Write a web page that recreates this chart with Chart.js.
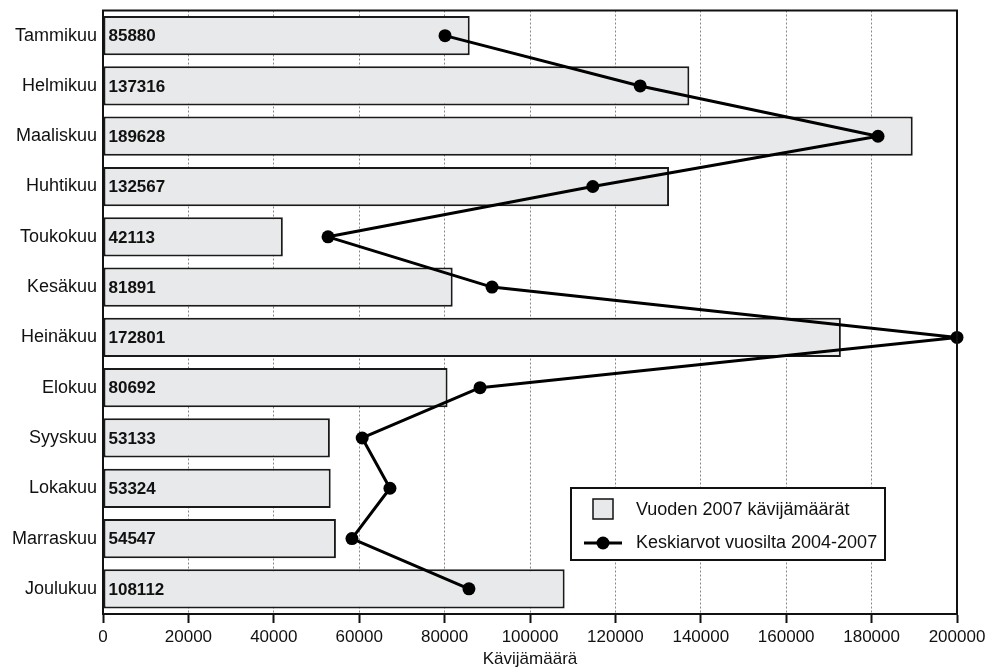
<!DOCTYPE html>
<html><head><meta charset="utf-8">
<script src="https://cdn.jsdelivr.net/npm/chart.js@4"></script>
<style>html,body{margin:0;padding:0;background:#fff}#wrap{width:1003px;height:668px}</style>
</head><body><div id="wrap"><canvas id="c" width="1003" height="668"></canvas></div>
<script>
const months = ["Tammikuu","Helmikuu","Maaliskuu","Huhtikuu","Toukokuu","Kesäkuu","Heinäkuu","Elokuu","Syyskuu","Lokakuu","Marraskuu","Joulukuu"];
const visitors2007 = [85880,137316,189628,132567,42113,81891,172801,80692,53133,53324,54547,108112];
const average2004_2007 = [80100,125800,181500,114700,52700,91100,200000,88300,60700,67200,58300,85700];
const xTicks = [0,20000,40000,60000,80000,100000,120000,140000,160000,180000,200000];
const barLabel = "Vuoden 2007 kävijämäärät";
const lineLabel = "Keskiarvot vuosilta 2004-2007";
const xTitle = "Kävijämäärä";

const FONT = "'Liberation Sans', Arial, sans-serif";

const framePlugin = {
  id: 'frame',
  afterDatasetsDraw(chart) {
    const {ctx, chartArea: a} = chart;
    ctx.save();
    ctx.strokeStyle = '#111';
    ctx.lineWidth = 2;
    ctx.strokeRect(a.left, a.top, a.right - a.left, a.bottom - a.top);
    const meta = chart.getDatasetMeta(0);
    ctx.font = "bold 17px " + FONT;
    ctx.fillStyle = '#111';
    ctx.textBaseline = 'middle';
    ctx.textAlign = 'left';
    meta.data.forEach((bar, i) => {
      ctx.fillText(String(chart.data.datasets[0].data[i]), bar.base + 5, bar.y + 1);
    });
    ctx.restore();
  },
  afterDraw(chart) {
    const {ctx} = chart;
    const x = 571, y = 488, w = 314, h = 72;
    ctx.save();
    ctx.fillStyle = '#fff';
    ctx.fillRect(x, y, w, h);
    ctx.strokeStyle = '#111';
    ctx.lineWidth = 2;
    ctx.strokeRect(x, y, w, h);
    ctx.fillStyle = '#e8e9ea';
    ctx.fillRect(593, 499, 20, 20);
    ctx.lineWidth = 1.5;
    ctx.strokeRect(593, 499, 20, 20);
    ctx.strokeStyle = '#000';
    ctx.lineWidth = 3;
    ctx.beginPath(); ctx.moveTo(584, 543); ctx.lineTo(622, 543); ctx.stroke();
    ctx.fillStyle = '#000';
    ctx.beginPath(); ctx.arc(603, 543, 6.5, 0, Math.PI*2); ctx.fill();
    ctx.font = "18px " + FONT;
    ctx.fillStyle = '#111';
    ctx.textBaseline = 'middle';
    ctx.fillText(chart.data.datasets[0].label, 636, 510);
    ctx.fillText(chart.data.datasets[1].label, 636, 543);
    ctx.restore();
  }
};

new Chart(document.getElementById('c'), {
  data: {
    labels: months,
    datasets: [
      {
        type: 'bar',
        label: barLabel,
        data: visitors2007,
        backgroundColor: '#e8e9ea',
        borderColor: '#1a1a1a',
        borderWidth: 2,
        borderSkipped: false,
        barPercentage: 0.78,
        categoryPercentage: 1.0,
        order: 2
      },
      {
        type: 'line',
        label: lineLabel,
        data: average2004_2007,
        borderColor: '#000',
        backgroundColor: '#000',
        borderWidth: 3,
        borderJoinStyle: 'round',
        pointRadius: 6.5,
        pointHoverRadius: 6.5,
        pointBorderWidth: 0,
        pointBackgroundColor: '#000',
        tension: 0,
        clip: 10,
        order: 1
      }
    ]
  },
  options: {
    indexAxis: 'y',
    responsive: false,
    animation: false,
    devicePixelRatio: 1,
    layout: {padding: {top: 10, right: 46, bottom: 0, left: 0}},
    plugins: {legend: {display: false}, tooltip: {enabled: false}},
    scales: {
      x: {
        type: 'linear',
        min: 0, max: 200000,
        afterBuildTicks: (s) => { s.ticks = xTicks.map(v => ({value: v})); },
        afterFit: (s) => { s.height = 54; },
        ticks: {color: '#111', font: {size: 17, family: FONT}, padding: 4, maxRotation: 0, autoSkip: false,
                callback: (v) => String(v)},
        grid: {color: '#888', lineWidth: 1, tickLength: 9, tickColor: '#111', tickWidth: 2, tickBorderDash: [], drawOnChartArea: true},
        border: {display: true, color: '#111', width: 2, dash: [2, 2]},
        title: {display: true, text: xTitle, color: '#111', font: {size: 17, family: FONT, lineHeight: 1.0}, padding: {top: 0, bottom: 0}}
      },
      y: {
        type: 'category',
        offset: true,
        afterFit: (s) => { s.width = 103; },
        ticks: {color: '#111', font: {size: 18, family: FONT, lineHeight: 0.5}, padding: 6},
        grid: {display: false, drawTicks: false},
        border: {display: true, color: '#111', width: 2}
      }
    }
  },
  plugins: [framePlugin]
});
</script>
</body></html>
